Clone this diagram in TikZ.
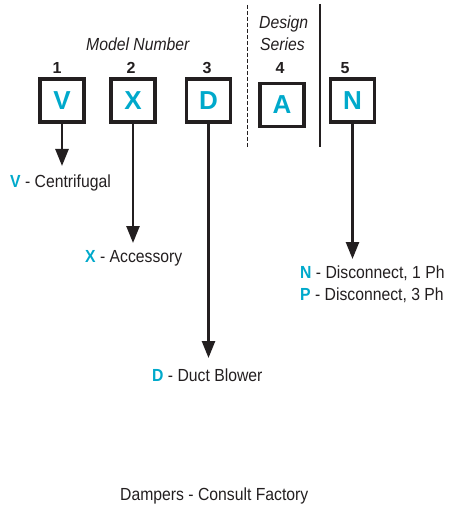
\documentclass[tikz,border=0pt]{standalone}
\usepackage{fontspec}
\setmainfont{Liberation Sans}[FakeStretch=0.9]
\newfontfamily\boxfont{Liberation Sans}
\usetikzlibrary{arrows.meta}
\definecolor{cy}{HTML}{00A9CB}
\definecolor{ink}{HTML}{231F20}
\begin{document}
\begin{tikzpicture}[x=1pt,y=-1pt,
  box/.style={draw=ink,line width=3.2pt,minimum width=44pt,minimum height=43pt,inner sep=0pt,
    text=cy,font=\boxfont\fontsize{26}{30}\selectfont\bfseries},
  num/.style={inner sep=0pt,anchor=base,text=ink,font=\boxfont\fontsize{16}{19}\selectfont\bfseries},
  lbl/.style={inner sep=0pt,anchor=base west,text=ink,font=\fontsize{17.5}{21}\selectfont},
  ttl/.style={inner sep=0pt,anchor=base west,text=ink,font=\fontsize{17.5}{21}\selectfont\itshape},
  arr/.style={draw=ink,line width=2.5pt,-{Triangle[width=13pt,length=17pt]}}]
\useasboundingbox (0,0) rectangle (448,505);
% titles
\node[ttl] (mn) at (86,51) {Model Number};
\node[ttl] (ds) at (259,29) {Design};
\node[ttl] (sr) at (260,51) {Series};
% numbers
\node[num] (n1) at (57,73.5) {1};
\node[num] (n2) at (131,73.5) {2};
\node[num] (n3) at (207,73.5) {3};
\node[num] (n4) at (280,73.5) {4};
\node[num] (n5) at (345,73.5) {5};
% boxes
\node[box] (bV) at (62,100.5) {V};
\node[box] (bX) at (133,100.5) {X};
\node[box] (bD) at (208.5,100.5) {D};
\node[box] (bA) at (282,105) {A};
\node[box] (bN) at (352.5,100.5) {N};
% separators
\coordinate (s1a) at (247,5); \coordinate (s1b) at (247,147);
\coordinate (s2a) at (320,4); \coordinate (s2b) at (320,147);
\draw[ink,line width=1pt,dash pattern=on 4pt off 2pt] (s1a) -- (s1b);
\draw[ink,line width=1.3pt] (s2a) -- (s2b);
% arrow ends
\coordinate (eV) at (62,166);
\coordinate (eX) at (133,243);
\coordinate (eD) at (208.5,358);
\coordinate (eN) at (352.5,259);
\draw[arr] (bV.south) -- (eV);
\draw[arr] (bX.south) -- (eX);
\draw[arr] (bD.south) -- (eD);
\draw[arr] (bN.south) -- (eN);
% labels
\node[lbl] (lV) at (10,187) {\textcolor{cy}{\bfseries V} - Centrifugal};
\node[lbl] (lX) at (85,262) {\textcolor{cy}{\bfseries X} - Accessory};
\node[lbl] (lN) at (300,278) {\textcolor{cy}{\bfseries N} - Disconnect, 1 Ph};
\node[lbl] (lP) at (300,300) {\textcolor{cy}{\bfseries P} - Disconnect, 3 Ph};
\node[lbl] (lD) at (152,381) {\textcolor{cy}{\bfseries D} - Duct Blower};
\node[lbl] (lF) at (120,500) {Dampers - Consult Factory};
\end{tikzpicture}
\end{document}
